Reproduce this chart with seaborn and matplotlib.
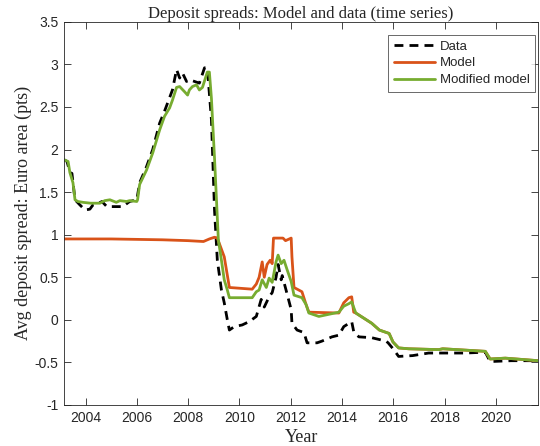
import numpy as np
import matplotlib
matplotlib.use("Agg")
import matplotlib.pyplot as plt
import seaborn as sns

sns.set_theme(style="ticks")
plt.rcParams['font.family'] = ['Liberation Sans', 'DejaVu Sans']

# values (year, spread in pts)
data_year = [2003.16, 2003.28, 2003.39, 2003.47, 2003.59, 2003.78, 2003.98, 2004.17, 2004.29,
             2004.45, 2004.64, 2004.83, 2005.06, 2005.26, 2005.45, 2005.72, 2006.00, 2006.11,
             2006.38, 2006.62, 2006.89, 2007.08, 2007.39, 2007.55, 2007.67, 2007.78, 2007.94,
             2008.05, 2008.25, 2008.44, 2008.64, 2008.75, 2008.91, 2009.03, 2009.14, 2009.30,
             2009.41, 2009.53, 2009.61, 2009.80, 2010.11, 2010.39, 2010.66, 2010.85, 2010.97,
             2011.16, 2011.28, 2011.43, 2011.51, 2011.63, 2011.67, 2011.82, 2012.02, 2012.05,
             2012.25, 2012.52, 2012.64, 2013.03, 2013.22, 2013.61, 2013.88, 2014.07, 2014.38,
             2014.46, 2014.66, 2015.16, 2015.72, 2015.80, 2016.02, 2016.21, 2016.76, 2017.38,
             2017.93, 2018.81, 2019.59, 2019.78, 2020.60, 2021.65]
data_val = [1.88, 1.86, 1.73, 1.72, 1.41, 1.35, 1.29, 1.30, 1.35,
            1.36, 1.39, 1.33, 1.33, 1.33, 1.33, 1.39, 1.41, 1.61,
            1.80, 2.00, 2.31, 2.45, 2.70, 2.94, 2.84, 2.90, 2.80,
            2.82, 2.80, 2.78, 2.96, 2.96, 2.35, 1.29, 0.70, 0.35,
            0.20, 0.00, -0.12, -0.08, -0.06, -0.02, 0.04, 0.24, 0.15,
            0.27, 0.32, 0.50, 0.65, 0.47, 0.52, 0.35, 0.12, -0.04,
            -0.12, -0.15, -0.27, -0.27, -0.25, -0.20, -0.18, -0.08, -0.02,
            -0.14, -0.20, -0.21, -0.25, -0.27, -0.35, -0.43, -0.42, -0.39,
            -0.39, -0.39, -0.38, -0.49, -0.48, -0.48]

model_year = [2003.16, 2005.00, 2007.00, 2008.00, 2008.60, 2008.83, 2009.03, 2009.14, 2009.41,
              2009.61, 2010.50, 2010.66, 2010.77, 2010.89, 2010.97, 2011.08, 2011.20, 2011.28,
              2011.33, 2011.70, 2011.80, 2012.02, 2012.05, 2012.13, 2012.44, 2012.60, 2012.71,
              2013.88, 2013.99, 2014.07, 2014.27, 2014.38, 2014.46, 2014.54, 2014.85, 2015.16,
              2015.46, 2015.84, 2015.99, 2016.21, 2016.60, 2017.77, 2017.93, 2019.59, 2019.78,
              2020.37, 2021.65]
model_val = [0.95, 0.95, 0.94, 0.93, 0.92, 0.95, 0.97, 0.96, 0.74,
             0.38, 0.36, 0.42, 0.50, 0.68, 0.50, 0.65, 0.70, 0.66,
             0.96, 0.96, 0.93, 0.96, 0.74, 0.38, 0.33, 0.18, 0.09,
             0.08, 0.15, 0.20, 0.26, 0.27, 0.09, 0.08, 0.02, -0.04,
             -0.12, -0.16, -0.26, -0.33, -0.34, -0.35, -0.34, -0.37, -0.46,
             -0.45, -0.48]

modified_year = [2003.16, 2003.32, 2003.39, 2003.51, 2003.59, 2003.70, 2003.90, 2004.20, 2004.56,
                 2004.75, 2004.95, 2005.20, 2005.34, 2005.60, 2005.72, 2006.00, 2006.03, 2006.11,
                 2006.38, 2006.62, 2006.89, 2007.08, 2007.28, 2007.39, 2007.55, 2007.67, 2007.86,
                 2007.98, 2008.05, 2008.17, 2008.33, 2008.44, 2008.56, 2008.75, 2008.83, 2008.91,
                 2009.03, 2009.18, 2009.30, 2009.41, 2009.53, 2009.61, 2010.50, 2010.66, 2010.77,
                 2010.89, 2011.05, 2011.16, 2011.28, 2011.43, 2011.51, 2011.63, 2011.74, 2011.86,
                 2012.02, 2012.13, 2012.44, 2012.60, 2012.71, 2013.10, 2013.88, 2014.07, 2014.27,
                 2014.38, 2014.54, 2014.85, 2015.16, 2015.46, 2015.84, 2015.99, 2016.21, 2016.60,
                 2017.77, 2017.93, 2019.59, 2019.78, 2020.37, 2021.65]
modified_val = [1.88, 1.86, 1.73, 1.61, 1.41, 1.39, 1.38, 1.37, 1.37,
                1.40, 1.41, 1.38, 1.40, 1.39, 1.40, 1.39, 1.41, 1.59,
                1.76, 1.96, 2.23, 2.39, 2.49, 2.58, 2.73, 2.74, 2.68,
                2.64, 2.70, 2.74, 2.76, 2.70, 2.73, 2.91, 2.91, 2.60,
                1.90, 0.94, 0.70, 0.47, 0.35, 0.26, 0.26, 0.33, 0.35,
                0.47, 0.38, 0.49, 0.44, 0.68, 0.76, 0.66, 0.70, 0.59,
                0.45, 0.29, 0.26, 0.18, 0.08, 0.04, 0.09, 0.16, 0.19,
                0.21, 0.08, 0.02, -0.04, -0.12, -0.16, -0.26, -0.33, -0.34,
                -0.35, -0.34, -0.37, -0.46, -0.45, -0.48]

x_ticks = [2004, 2006, 2008, 2010, 2012, 2014, 2016, 2018, 2020]
y_ticks = [-1, -0.5, 0, 0.5, 1, 1.5, 2, 2.5, 3, 3.5]
y_tick_labels = ["-1", "-0.5", "0", "0.5", "1", "1.5", "2", "2.5", "3", "3.5"]

fig = plt.figure(figsize=(5.4, 4.46), dpi=100)
ax = fig.add_axes([0.1185, 0.092, 0.878, 0.859])

sns.lineplot(x=data_year, y=data_val, ax=ax, color="black", linestyle=(0, (3.2, 2.2)),
             linewidth=2.0, label="Data", sort=False, estimator=None)
sns.lineplot(x=model_year, y=model_val, ax=ax, color="#D95319", linewidth=2.0,
             label="Model", sort=False, estimator=None)
sns.lineplot(x=modified_year, y=modified_val, ax=ax, color="#77AC30", linewidth=2.0,
             label="Modified model", sort=False, estimator=None)

ax.set_xlim(2003.16, 2021.65)
ax.set_ylim(-1, 3.5)
ax.set_xticks(x_ticks)
ax.set_xticklabels([str(t) for t in x_ticks])
ax.set_yticks(y_ticks)
ax.set_yticklabels(y_tick_labels)
ax.tick_params(direction="in", length=5, width=0.6, colors="#262626", labelsize=10,
               top=True, right=True, pad=4)
for s in ax.spines.values():
    s.set_visible(True)
    s.set_color("#262626")
    s.set_linewidth(0.6)

serif = ["Liberation Serif", "DejaVu Serif"]
ax.set_title("Deposit spreads: Model and data (time series)", family=serif, fontsize=12,
             pad=3)
ax.set_xlabel("Year", family=serif, fontsize=13, labelpad=3)
ax.set_ylabel("Avg deposit spread: Euro area (pts)", family=serif, fontsize=13, labelpad=2)

leg = ax.legend(loc="upper right", bbox_to_anchor=(535 / 540, 1 - 35 / 446),
                bbox_transform=fig.transFigure, fontsize=9.5, frameon=True, fancybox=False,
                handlelength=3.1, borderpad=0.4, labelspacing=0.35, borderaxespad=0,
                handletextpad=0.4)
leg.get_frame().set_edgecolor("#262626")
leg.get_frame().set_linewidth(0.6)

fig.savefig("out.png", dpi=100)
